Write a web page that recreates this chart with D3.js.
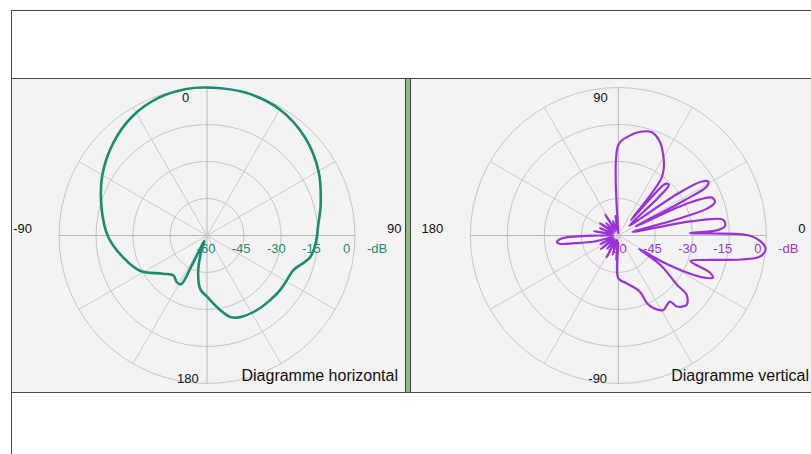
<!DOCTYPE html>
<html>
<head>
<meta charset="utf-8">
<title>Diagrammes de rayonnement</title>
<style>
  body { margin: 0; background: #fff; }
  svg { display: block; }
</style>
</head>
<body>
<script src="https://cdn.jsdelivr.net/npm/d3@7"></script>
<script>

var width = 811, height = 454;

// graduations en dB (centre = -60, bord = 0)
var dbTicks = [-60, -45, -30, -15, 0];
var dbUnit = "-dB";

// diagramme horizontal : angle en degres, 0 en haut, sens horaire
var hAngles = [0, 15, 30, 45, 60, 75, 85, 94, 102, 112, 119, 127, 136, 146, 158, 164, 170, 180,
               187, 193, 199, 205, 207, 208, 213, 220, 229, 242, 255, 269, 284, 300, 315, 328, 341, 352];
var hValues = [0, 0, -1, -3.8, -7.8, -12.3, -14.8, -15.8, -17.3, -22.3, -22.9, -23, -23.4, -23.6, -24.3, -25.6, -29.3, -35.2,
               -38, -44, -52, -57.5, -46, -37.6, -37.5, -38.8, -36.4, -29.4, -25, -20, -16, -11, -6.5, -3, -0.8, 0];
var hLabels = {top: "0", left: "-90", right: "90", bottom: "180"};

// diagramme vertical : angle en degres, 0 a droite, 90 en haut
var vAngles = [90, 90, 84, 78, 72, 66, 61, 56, 53, 51.5, 50.5, 49, 47.5, 45, 43.5, 42,
               38, 35, 33, 31, 29, 28, 27, 25, 22, 19, 17, 15.5, 14, 11, 8.5, 5, 3, 2,
               0, -3, -5.5, -8.5, -11, -12.7, -16, -19.5, -22, -24, -26, -28, -31, -33,
               -35, -40, -41, -45.5, -50.5, -52, -59, -64, -67, -69, -80, -90, -90,
               -95, -100, -106, -112, -118, -124, -130, -136, -142, -148, -155, -161, -166,
               -170, -172, -174, -177, -178.5, -180, -185, -190, -196, -202, -208, -214,
               -220, -226, -232, -238, -244, -250, -256, -262, -267];
var vValues = [-59, -23.3, -19.5, -17, -16, -18.5, -22.5, -27, -31, -40, -52, -40, -31.5, -31, -38, -54,
               -50, -30, -20, -17.5, -19, -30, -52, -30, -19, -18.6, -22, -35, -54, -30, -17, -16.6, -20, -31,
               -7, -1.5, 0, -2, -9, -15, -24, -29, -20, -18, -21, -27, -40, -50,
               -39, -29, -23.3, -20.5, -22.7, -26, -24.7, -27.2, -30.2, -35.6, -40.3, -42.6, -57,
               -50, -58, -52, -58, -50, -57, -53, -58, -51, -57, -52, -58, -50,
               -42, -36, -35, -37, -42, -52, -58, -50, -57, -52, -58, -51,
               -57, -53, -58, -50, -57, -53.8, -58, -52, -58];
var vLabels = {top: "90", left: "180", right: "0", bottom: "-90"};

var svg = d3.select("body").append("svg")
    .attr("width", width)
    .attr("height", height)
    .style("font-family", "'Liberation Sans', Arial, sans-serif");

// cadre general
svg.append("rect").attr("x", 11.5).attr("y", 10.5).attr("width", 820).attr("height", 460)
    .attr("fill", "#fff").attr("stroke", "#4a4a4a");
svg.append("rect").attr("x", 12).attr("y", 79).attr("width", 800).attr("height", 313)
    .attr("fill", "#f3f3f3");
svg.append("line").attr("x1", 11).attr("x2", 811).attr("y1", 78.5).attr("y2", 78.5).attr("stroke", "#4a4a4a");
svg.append("line").attr("x1", 11).attr("x2", 811).attr("y1", 392.5).attr("y2", 392.5).attr("stroke", "#4a4a4a");

// separateur vert entre les deux diagrammes
svg.append("rect").attr("x", 406).attr("y", 79).attr("width", 5).attr("height", 313).attr("fill", "#8cbc8c");
svg.append("line").attr("x1", 405.5).attr("x2", 405.5).attr("y1", 79).attr("y2", 392).attr("stroke", "#3c3c3c");
svg.append("line").attr("x1", 410.5).attr("x2", 410.5).attr("y1", 79).attr("y2", 392).attr("stroke", "#3c3c3c");

var r = d3.scaleLinear().domain([-60, 0]).range([0, 148]);

function drawPolar(cx, cy, angles, values, toRad, color, width_, labels, title, titleEnd) {
    var g = svg.append("g").attr("transform", "translate(" + cx + "," + cy + ")");

    // cercles
    g.selectAll(".ring").data(dbTicks.slice(1)).enter().append("circle")
        .attr("r", d => r(d))
        .attr("fill", "none").attr("stroke", "#c6c6c6").attr("stroke-width", 1);

    // rayons tous les 30 degres
    g.selectAll(".spoke").data(d3.range(0, 360, 30)).enter().append("line")
        .attr("x1", 0).attr("y1", 0)
        .attr("x2", d => r(0) * Math.sin(d * Math.PI / 180))
        .attr("y2", d => -r(0) * Math.cos(d * Math.PI / 180))
        .attr("stroke", d => d % 90 == 0 ? "#b8b8b8" : "#cacaca").attr("stroke-width", 1);

    // courbe
    var pts = angles.map((a, i) => [toRad(a), r(values[i])]);
    var line = d3.lineRadial().angle(d => d[0]).radius(d => d[1])
        .curve(d3.curveCatmullRomClosed.alpha(0.5));
    g.append("path").attr("d", line(pts))
        .attr("fill", "none").attr("stroke", color).attr("stroke-width", width_)
        .attr("stroke-linejoin", "round");

    // graduations dB
    g.selectAll(".db").data(dbTicks).enter().append("text")
        .attr("x", d => r(d) * 0.95 - 1).attr("y", 17)
        .attr("text-anchor", "middle").attr("font-size", 13).attr("fill", color)
        .text(d => d);
    g.append("text").attr("x", 170).attr("y", 17).attr("text-anchor", "middle")
        .attr("font-size", 13).attr("fill", color).text(dbUnit);

    // angles
    var lab = g.append("g").attr("font-size", 13).attr("fill", "#111");
    lab.append("text").attr("x", -25).attr("y", -134).text(labels.top);
    lab.append("text").attr("x", -175).attr("y", -3).attr("text-anchor", "end").text(labels.left);
    lab.append("text").attr("x", 180).attr("y", -3).text(labels.right);
    lab.append("text").attr("x", -30).attr("y", 147).text(labels.bottom);

    // titre
    svg.append("text").attr("x", titleEnd).attr("y", cy + 145.5)
        .attr("text-anchor", "end").attr("font-size", 16).attr("fill", "#111").text(title);
}

drawPolar(207, 235.5, hAngles, hValues, a => a * Math.PI / 180, "#1a8c71", 2.6,
    hLabels, "Diagramme horizontal", 398);
drawPolar(618.3, 235.5, vAngles, vValues, a => (90 - a) * Math.PI / 180, "#9a32d8", 2.2,
    vLabels, "Diagramme vertical", 809);

</script>
</body>
</html>
